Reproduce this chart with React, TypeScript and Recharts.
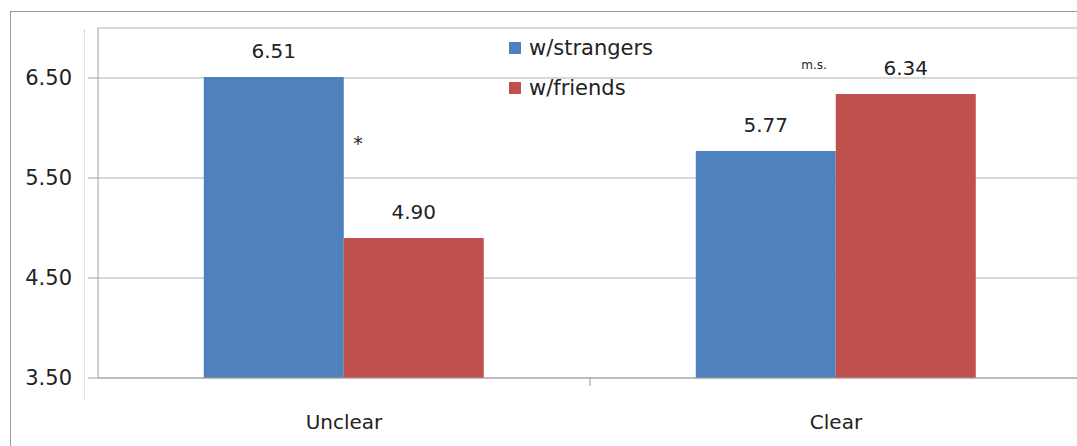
import React from 'react';
import { BarChart, Bar, XAxis, YAxis, CartesianGrid, Legend, LabelList, ReferenceDot } from 'recharts';

const categories = ['Unclear', 'Clear'];
const strangers = [6.51, 5.77];
const friends = [4.90, 6.34];
const yTicks = [3.5, 4.5, 5.5, 6.5];
const seriesOrder = ['w/strangers', 'w/friends'];

// significance marks between the pairs
const notes = [
    { cat: 'Unclear', y: 5.85, text: '*', dx: 14, size: 19 },
    { cat: 'Clear', y: 6.63, text: 'm.s.', dx: -22, size: 12 },
];

const BLUE = '#4F81BD';
const RED = '#C0504D';
const FONT = '"DejaVu Sans", sans-serif';

const data = categories.map((c, i) => ({ name: c, strangers: strangers[i], friends: friends[i] }));

const XTick = (props: any) => {
    const { x, y, payload, index } = props;
    const half = payload && payload.offset ? payload.offset : 246;
    return (
        <g>
            <text x={x} y={y + 49} textAnchor="middle" fontSize={20} fill="#222" fontFamily={FONT}>{payload.value}</text>
            {index === 0 && <line x1={x + half} x2={x + half} y1={378} y2={386} stroke="#999" />}
        </g>
    );
};

const LegendBox = (props: any) => {
    const items = [...(props.payload || [])].sort((a: any, b: any) => seriesOrder.indexOf(a.value) - seriesOrder.indexOf(b.value));
    return (
        <div style={{ fontFamily: FONT, fontSize: 21, color: '#222' }}>
            {items.map((it: any) => (
                <div key={it.value} style={{ display: 'flex', alignItems: 'center', height: 40 }}>
                    <span style={{ width: 12, height: 12, background: it.color, marginRight: 8, display: 'inline-block' }} />
                    <span>{it.value}</span>
                </div>
            ))}
        </div>
    );
};

export default function App() {
    return (
        <div style={{ position: 'fixed', left: 0, top: 0, width: 1077, height: 446, overflow: 'hidden', background: '#fff' }}>
            <div style={{ position: 'absolute', left: 10, top: 11, width: 1200, height: 600, borderTop: '1px solid #9a9a9a', borderLeft: '1px solid #9a9a9a' }} />
            <div style={{ position: 'absolute', left: 84, top: 30, height: 370, borderLeft: '1px dotted #c8c8c8' }} />
            <div style={{ position: 'absolute', left: 0, top: 0 }}>
                <BarChart width={1090} height={446} data={data} margin={{ top: 28, right: 8, bottom: 0, left: 0 }}
                    barCategoryGap="21.5%" barGap={0}>
                    <CartesianGrid vertical={false} stroke="#b4b4b4" />
                    <XAxis dataKey="name" height={68} stroke="#a0a0a0" tickLine={false} tickSize={0} tick={<XTick />} />
                    <YAxis width={98} domain={[3.5, 7.0]} ticks={yTicks} allowDataOverflow stroke="#a0a0a0"
                        tickSize={10} tickMargin={16} tickFormatter={(v: number) => v.toFixed(2)}
                        tick={{ fill: '#222', fontSize: 21, fontFamily: FONT }} />
                    <Legend layout="vertical" align="center" verticalAlign="middle" content={<LegendBox />}
                        wrapperStyle={{ left: 509, top: 28, width: 200 }} />
                    <Bar dataKey="strangers" name="w/strangers" fill={BLUE} isAnimationActive={false}>
                        <LabelList dataKey="strangers" position="top" offset={19} formatter={(v: any) => Number(v).toFixed(2)}
                            style={{ fill: '#222', fontSize: 20, fontFamily: FONT }} />
                    </Bar>
                    <Bar dataKey="friends" name="w/friends" fill={RED} isAnimationActive={false}>
                        <LabelList dataKey="friends" position="top" offset={19} formatter={(v: any) => Number(v).toFixed(2)}
                            style={{ fill: '#222', fontSize: 20, fontFamily: FONT }} />
                    </Bar>
                    {notes.map((n) => (
                        <ReferenceDot key={n.text} x={n.cat} y={n.y} r={0} isFront
                            shape={(p: any) => (
                                <text x={p.cx + n.dx} y={p.cy} dy="0.35em" textAnchor="middle" fontSize={n.size} fill="#222" fontFamily={FONT}>{n.text}</text>
                            )} />
                    ))}
                </BarChart>
            </div>
        </div>
    );
}
